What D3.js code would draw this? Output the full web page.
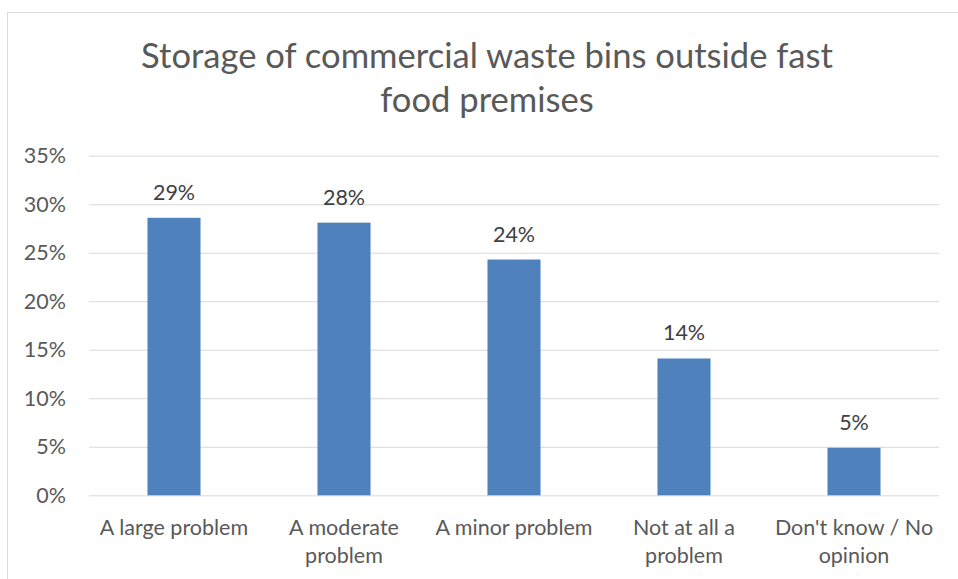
<!DOCTYPE html>
<html><head><meta charset="utf-8">
<script src="https://cdn.jsdelivr.net/npm/d3@7"></script>
<style>body{margin:0;background:#fff}svg{display:block}text{font-family:Lato,"Open Sans",sans-serif}</style>
</head><body>
<svg id="c" width="958" height="579"></svg>
<script>
const titleLines = ["Storage of commercial waste bins outside fast", "food premises"];
const categories = ["A large problem", "A moderate problem", "A minor problem", "Not at all a problem", "Don't know / No opinion"];
const values = [0.286, 0.281, 0.243, 0.141, 0.049];
const dataLabels = ["29%", "28%", "24%", "14%", "5%"];
const yTicks = [0, 0.05, 0.10, 0.15, 0.20, 0.25, 0.30, 0.35];

const svg = d3.select("#c");
const m = {left: 89, right: 939, top: 155.7, bottom: 495.3};
const FS = "21.5px";

svg.append("rect").attr("x", 7.5).attr("y", 12.5).attr("width", 1000).attr("height", 1000)
  .attr("fill", "#fff").attr("stroke", "#d9d9d9").attr("stroke-width", 1);

const x = d3.scaleBand().domain(categories).range([m.left, m.right]).paddingInner(0.688).paddingOuter(0.344);
const y = d3.scaleLinear().domain([0, 0.35]).range([m.bottom, m.top]);

const yAxis = d3.axisLeft(y).tickValues(yTicks).tickFormat(d3.format(".0%")).tickSize(-(m.right - m.left)).tickPadding(23);
const ga = svg.append("g").attr("transform", `translate(${m.left},0)`).call(yAxis);
ga.select(".domain").remove();
ga.selectAll(".tick line").attr("stroke", "#d9d9d9").attr("stroke-width", 1);
ga.selectAll(".tick text").attr("fill", "#595959").style("font-size", FS).style("font-family", "Lato");

svg.append("g").selectAll("rect").data(values).join("rect")
  .attr("x", (d, i) => x(categories[i]))
  .attr("y", d => y(d))
  .attr("width", x.bandwidth())
  .attr("height", d => y(0) - y(d))
  .attr("fill", "#4f81bd");

svg.append("g").selectAll("text").data(values).join("text")
  .attr("x", (d, i) => x(categories[i]) + x.bandwidth() / 2)
  .attr("y", d => y(d) - 18)
  .attr("text-anchor", "middle")
  .attr("fill", "#404040")
  .style("font-size", FS)
  .text((d, i) => dataLabels[i]);

const xg = svg.append("g");
categories.forEach(c => {
  const cx = x(c) + x.bandwidth() / 2;
  const t = xg.append("text").attr("text-anchor", "middle").attr("fill", "#595959").style("font-size", FS);
  const words = c.split(" ");
  let lines = [], cur = "";
  const probe = xg.append("text").style("font-size", FS);
  words.forEach(w => {
    const test = cur ? cur + " " + w : w;
    probe.text(test);
    if (probe.node().getComputedTextLength() > 166 && cur) { lines.push(cur); cur = w; } else cur = test;
  });
  lines.push(cur);
  probe.remove();
  lines.forEach((l, i) => t.append("tspan").attr("x", cx).attr("y", 535 + i * 28).text(l));
});

const tg = svg.append("g");
const tcx = 487;
const targetW = 692;
const tl0 = tg.append("text").attr("x", tcx).attr("y", 68).attr("text-anchor", "middle").attr("fill", "#595959")
  .style("font-size", "32px").style("font-weight", 400).text(titleLines[0]);
const w0 = tl0.node().getComputedTextLength();
const fs = 32 * targetW / w0;
tl0.style("font-size", fs + "px");
tg.append("text").attr("x", tcx).attr("y", 112).attr("text-anchor", "middle").attr("fill", "#595959")
  .style("font-size", fs + "px").style("font-weight", 400).text(titleLines[1]);
</script>
</body></html>
